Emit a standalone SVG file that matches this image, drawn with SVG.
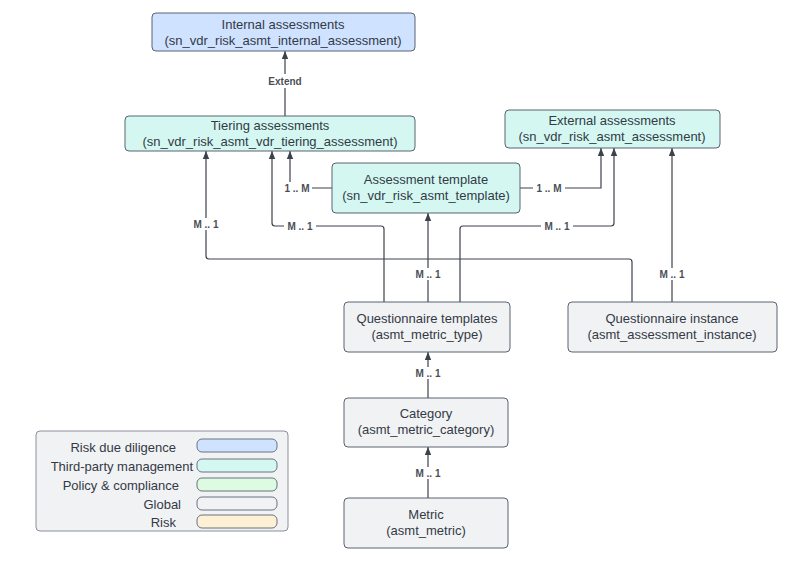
<svg xmlns="http://www.w3.org/2000/svg" width="800" height="568" viewBox="0 0 800 568">
<style>
text{font-family:"Liberation Sans",Arial,sans-serif;fill:#333a45}
.n{font-size:13px;text-anchor:middle}
.l{font-size:10px;font-weight:bold;text-anchor:middle;fill:#4a4f57}
.c{fill:none;stroke:#3c424c;stroke-width:1.2;marker-end:url(#a)}
.bl{fill:#cfe2ff;stroke:#5a6270}
.tp{fill:#d4f8f1;stroke:#5a6270}
.gl{fill:#f1f2f4;stroke:#5a6270}
.lg{font-size:13px;text-anchor:end}
.lb{fill:#fff;stroke:#fff}
</style>
<defs><marker id="a" viewBox="0 0 10 10" refX="10" refY="5" markerWidth="7" markerHeight="8" orient="auto"><path d="M0,1L10,5L0,9z" fill="#3c424c"/></marker></defs>
<rect width="800" height="568" fill="#fff"/>
<g id="connectors">
<path class="c" d="M285,116V51"/>
<rect x="262" y="74" width="46" height="14" fill="#fff"/><text class="l" x="285" y="85">Extend</text>
<path class="c" d="M332,188H290V151"/>
<rect x="282" y="182" width="30" height="12" fill="#fff"/><text class="l" x="297" y="192">1 .. M</text>
<path class="c" d="M520,188H601V148"/>
<rect x="533" y="182" width="32" height="12" fill="#fff"/><text class="l" x="549" y="192">1 .. M</text>
<path class="c" d="M428,302V213"/>
<rect x="412" y="268" width="32" height="12" fill="#fff"/><text class="l" x="428" y="278">M .. 1</text>
<path class="c" d="M384,302V229Q384,226 381,226H275Q272,226 272,223V151"/>
<rect x="284" y="220" width="32" height="12" fill="#fff"/><text class="l" x="300" y="230">M .. 1</text>
<path class="c" d="M460,302V229Q460,226 463,226H611Q614,226 614,223V148"/>
<rect x="541" y="220" width="32" height="12" fill="#fff"/><text class="l" x="557" y="230">M .. 1</text>
<path class="c" d="M632,302V262Q632,259 629,259H209Q206,259 206,256V151"/>
<rect x="190" y="218" width="32" height="12" fill="#fff"/><text class="l" x="206" y="228">M .. 1</text>
<path class="c" d="M672,302V148"/>
<rect x="656" y="268" width="32" height="12" fill="#fff"/><text class="l" x="672" y="278">M .. 1</text>
<path class="c" d="M428,398V352"/>
<rect x="412" y="367" width="32" height="12" fill="#fff"/><text class="l" x="428" y="377">M .. 1</text>
<path class="c" d="M428,498V447"/>
<rect x="412" y="467" width="32" height="12" fill="#fff"/><text class="l" x="428" y="477">M .. 1</text>
</g>
<g id="internal"><rect class="bl" x="152" y="13" width="263" height="38" rx="4"/><text class="n" x="283" y="29">Internal assessments</text><text class="n" x="283" y="45">(sn_vdr_risk_asmt_internal_assessment)</text></g>
<g id="tiering"><rect class="tp" x="125" y="116" width="290" height="35" rx="4"/><text class="n" x="270" y="130">Tiering assessments</text><text class="n" x="270" y="146">(sn_vdr_risk_asmt_vdr_tiering_assessment)</text></g>
<g id="external"><rect class="tp" x="505" y="110" width="215" height="38" rx="4"/><text class="n" x="612" y="125">External assessments</text><text class="n" x="612" y="141">(sn_vdr_risk_asmt_assessment)</text></g>
<g id="template"><rect class="tp" x="332" y="163" width="188" height="50" rx="4"/><text class="n" x="426" y="184">Assessment template</text><text class="n" x="426" y="200">(sn_vdr_risk_asmt_template)</text></g>
<g id="qtemplates"><rect class="gl" x="344" y="302" width="166" height="50" rx="4"/><text class="n" x="427" y="323">Questionnaire templates</text><text class="n" x="427" y="339">(asmt_metric_type)</text></g>
<g id="qinstance"><rect class="gl" x="568" y="302" width="209" height="50" rx="4"/><text class="n" x="672" y="323">Questionnaire instance</text><text class="n" x="672" y="339">(asmt_assessment_instance)</text></g>
<g id="category"><rect class="gl" x="344" y="398" width="164" height="49" rx="4"/><text class="n" x="426" y="418">Category</text><text class="n" x="426" y="434">(asmt_metric_category)</text></g>
<g id="metric"><rect class="gl" x="344" y="498" width="164" height="50" rx="4"/><text class="n" x="426" y="519">Metric</text><text class="n" x="426" y="535">(asmt_metric)</text></g>
<g id="legend">
<rect x="36" y="431" width="252" height="100" rx="4" fill="#f1f2f4" stroke="#8a9099"/>
<text class="lg" x="176" y="452">Risk due diligence</text><rect x="197" y="439" width="80" height="13" rx="5" fill="#cfe2ff" stroke="#6a7280"/>
<text class="lg" x="193" y="471">Third-party management</text><rect x="197" y="459" width="80" height="13" rx="5" fill="#d4f8f1" stroke="#6a7280"/>
<text class="lg" x="179" y="490">Policy &amp; compliance</text><rect x="197" y="478" width="80" height="13" rx="5" fill="#dcfbe0" stroke="#6a7280"/>
<text class="lg" x="181" y="509">Global</text><rect x="197" y="497" width="80" height="13" rx="5" fill="#f1f2f4" stroke="#6a7280"/>
<text class="lg" x="176" y="527">Risk</text><rect x="197" y="515" width="80" height="13" rx="5" fill="#fdf0d5" stroke="#6a7280"/>
</g>
</svg>
